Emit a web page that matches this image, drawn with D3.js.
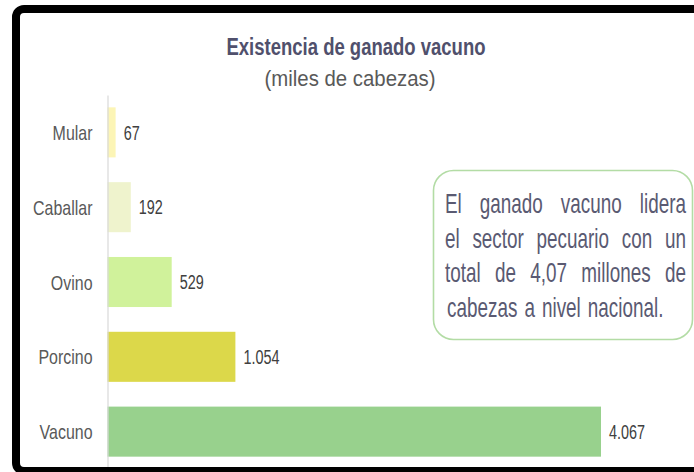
<!DOCTYPE html>
<html><head><meta charset="utf-8">
<script src="https://cdn.jsdelivr.net/npm/d3@7"></script>
<style>html,body{margin:0;padding:0;background:#fff;}svg{display:block;}</style>
</head><body>
<svg id="c" width="694" height="472"></svg>
<script>
const categories = ["Mular", "Caballar", "Ovino", "Porcino", "Vacuno"];
const values = [67, 192, 529, 1054, 4067];
const valueLabels = ["67", "192", "529", "1.054", "4.067"];
const barColors = ["#fcf5b6", "#eff3cd", "#d0f29b", "#dcd84a", "#98d18d"];
const titleText = "Existencia de ganado vacuno";
const subtitleText = "(miles de cabezas)";
const noteLines = ["El ganado vacuno lidera", "el sector pecuario con un", "total de 4,07 millones de", "cabezas a nivel nacional."];

const FONT = "'Liberation Sans', Arial, sans-serif";
const K = 0.76;
const svg = d3.select("#c");

function condense(sel, k) {
  sel.each(function() {
    const w = this.getComputedTextLength();
    d3.select(this).attr("textLength", w * k).attr("lengthAdjust", "spacingAndGlyphs");
  });
}

const y = d3.scaleBand().domain(categories).range([95, 469]).paddingInner(0.331).paddingOuter(0.165);
const x = d3.scaleLinear().domain([0, d3.max(values)]).range([107.5, 601]);

// bars
svg.append("g").selectAll("rect").data(categories).join("rect")
  .attr("x", x(0))
  .attr("y", d => y(d))
  .attr("width", (d, i) => x(values[i]) - x(0))
  .attr("height", y.bandwidth())
  .attr("fill", (d, i) => barColors[i]);

// axis
const ax = svg.append("g").attr("transform", `translate(${x(0)},0)`)
  .call(d3.axisLeft(y).tickSize(0).tickPadding(15).tickSizeOuter(0));
ax.select(".domain").attr("stroke", "#d9d9d9").attr("stroke-width", 1.2);
ax.selectAll("text").attr("font-family", FONT).attr("font-size", 21).attr("fill", "#595959")
  .attr("dy", "0.36em").call(condense, K);

// value labels
const vl = svg.append("g").selectAll("text").data(categories).join("text")
  .attr("x", (d, i) => x(values[i]) + 8)
  .attr("y", d => y(d) + y.bandwidth() / 2)
  .attr("dy", "0.36em")
  .attr("font-family", FONT).attr("font-size", 20).attr("fill", "#404040")
  .text((d, i) => valueLabels[i]);
vl.call(condense, 0.72);

// title
svg.append("text").attr("x", 356).attr("y", 55).attr("text-anchor", "middle")
  .attr("font-family", FONT).attr("font-weight", "bold").attr("font-size", 23.5).attr("fill", "#50506c")
  .attr("textLength", 259).attr("lengthAdjust", "spacingAndGlyphs").text(titleText);
svg.append("text").attr("x", 350).attr("y", 86).attr("text-anchor", "middle")
  .attr("font-family", FONT).attr("font-size", 22).attr("fill", "#595959")
  .attr("textLength", 171).attr("lengthAdjust", "spacingAndGlyphs").text(subtitleText);

// note box
svg.append("rect").attr("x", 433.5).attr("y", 170.5).attr("width", 259).attr("height", 169).attr("rx", 20)
  .attr("fill", "#fff").attr("stroke", "#b3dca5").attr("stroke-width", 1.6);
const left = 445, right = 686, SX = 0.70;
noteLines.forEach((line, li) => {
  const words = line.split(" ");
  const baseY = 213 + li * 34.7;
  const gs = words.map(w => {
    const g = svg.append("g");
    const t = g.append("text").attr("font-family", FONT).attr("font-size", 27).attr("fill", "#5a5a72").text(w);
    return { g, w: t.node().getComputedTextLength() * SX };
  });
  const total = d3.sum(gs, d => d.w);
  const last = li === noteLines.length - 1;
  const gap = last ? 7 : (right - left - total) / (words.length - 1);
  let cx = last ? left + 2 : left;
  gs.forEach(d => {
    d.g.attr("transform", `translate(${cx},${baseY}) scale(${SX},1)`);
    cx += d.w + gap;
  });
});

// frame
svg.append("rect").attr("x", 16).attr("y", 9).attr("width", 720).attr("height", 462).attr("rx", 8)
  .attr("fill", "none").attr("stroke", "#000").attr("stroke-width", 8);
</script>
</body></html>
